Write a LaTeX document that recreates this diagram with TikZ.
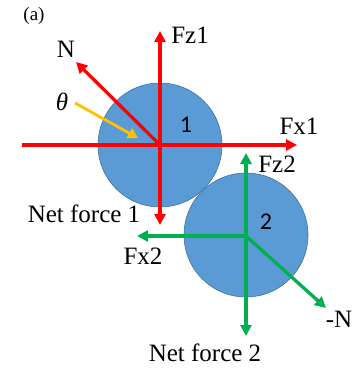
\documentclass[tikz,border=0pt]{standalone}
\usepackage{fontspec}
\setmainfont{Liberation Serif}
\newfontfamily\numfont{Carlito}
\usetikzlibrary{arrows.meta}
\definecolor{ballblue}{HTML}{5B9BD5}
\definecolor{balledge}{HTML}{41719C}
\definecolor{fred}{HTML}{FF0000}
\definecolor{fgreen}{HTML}{00B050}
\definecolor{fyellow}{HTML}{FFC000}
\tikzset{
  ball/.style={circle, fill=ballblue, draw=balledge, line width=0.6pt, minimum size=124pt, inner sep=0pt},
  force/.style={line width=3.3pt, -{Triangle[length=11pt,width=11pt]}},
  lbl/.style={font=\fontsize{25}{27}\selectfont, inner sep=0pt},
  numlbl/.style={font=\numfont\fontsize{24}{26}\selectfont, inner sep=0pt},
}
\begin{document}
\begin{tikzpicture}[x=1pt,y=-1pt]
\useasboundingbox (0,0) rectangle (356,369);
\node[ball] (b1) at (160,145) {};
\node[ball] (b2) at (246,235) {};
% centres and arrow ends
\coordinate (c1) at (160,145);
\coordinate (c2) at (246,236);
\coordinate (fz1) at (160,31);
\coordinate (fx1) at (297,145);
\coordinate (lx1) at (22,145);
\coordinate (nf1) at (160,225);
\coordinate (nn) at (76,62);
\coordinate (fz2) at (246,153);
\coordinate (fx2) at (137,236);
\coordinate (nf2) at (246,336);
\coordinate (mn) at (326,308);
\coordinate (ts) at (75,103);
\coordinate (te) at (138,138);
% red forces
\draw[fred, line width=3.3pt] (lx1) -- (c1);
\draw[fred, force] (c1) -- (fx1);
\draw[fred, force] (c1) -- (fz1);
\draw[fred, force] (c1) -- (nf1);
\draw[fred, force] (c1) -- (nn);
\draw[fyellow, line width=2.8pt, -{Triangle[length=10pt,width=11pt]}] (ts) -- (te);
% green forces
\draw[fgreen, force] (c2) -- (fz2);
\draw[fgreen, force] (c2) -- (fx2);
\draw[fgreen, force] (c2) -- (nf2);
\draw[fgreen, force] (c2) -- (mn);
% labels
\node[font=\fontsize{19}{21}\selectfont, inner sep=0pt] (la) at (34,16) {(a)};
\node[lbl] (lfz1) at (190,35) {Fz1};
\node[lbl] (lN) at (66,49) {N};
\node[lbl] (lth) at (62,102) {\itshape θ};
\node[numlbl] (l1) at (186,125) {1};
\node[lbl] (lfx1) at (299,126) {Fx1};
\node[lbl] (lfz2) at (277,164) {Fz2};
\node[lbl] (lnf1) at (84,214) {Net force 1};
\node[numlbl] (l2) at (266,222) {2};
\node[lbl] (lfx2) at (143,256) {Fx2};
\node[lbl] (lmn) at (339,319) {-N};
\node[lbl] (lnf2) at (205,353) {Net force 2};
\end{tikzpicture}
\end{document}
